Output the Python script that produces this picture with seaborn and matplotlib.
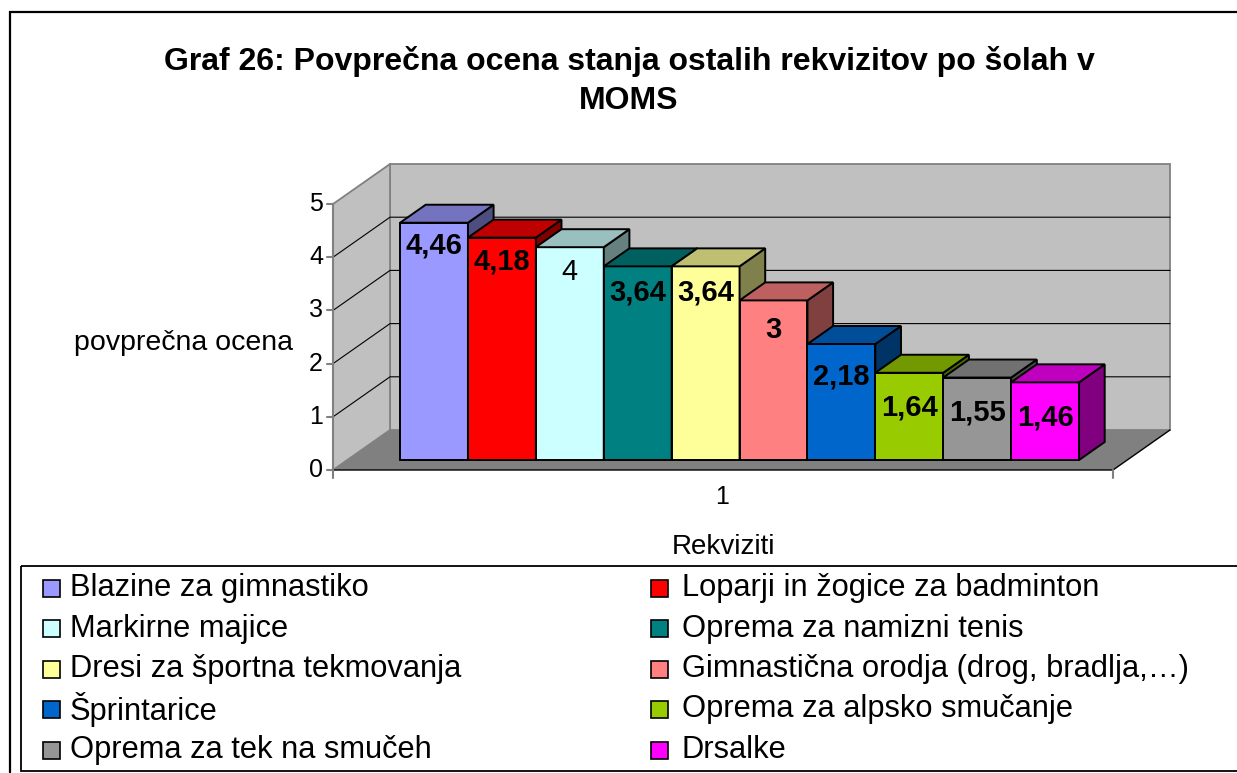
import numpy as np
import pandas as pd
import matplotlib
matplotlib.use("Agg")
import matplotlib.pyplot as plt
import seaborn as sns
from matplotlib.patches import Polygon, Rectangle
from matplotlib.colors import to_rgb

# ---------------- data ----------------
categories = ["Blazine za gimnastiko", "Loparji in žogice za badminton",
              "Markirne majice", "Oprema za namizni tenis",
              "Dresi za športna tekmovanja", "Gimnastična orodja (drog, bradlja,…)",
              "Šprintarice", "Oprema za alpsko smučanje",
              "Oprema za tek na smučeh", "Drsalke"]
values = [4.46, 4.18, 4.0, 3.64, 3.64, 3.0, 2.18, 1.64, 1.55, 1.46]
colors = ["#9999FF", "#FF0000", "#CCFFFF", "#008080", "#FFFF99",
          "#FF8080", "#0066CC", "#99CC00", "#969696", "#FF00FF"]
y_ticks = [0, 1, 2, 3, 4, 5]
x_tick_label = "1"
title = "Graf 26: Povprečna ocena stanja ostalih rekvizitov po šolah v\nMOMS"
x_label = "Rekviziti"
y_label = "povprečna ocena"
label_weights = ["bold", "bold", "normal", "bold", "bold",
                 "bold", "bold", "bold", "bold", "bold"]

# ---------------- setup ----------------
sns.set_theme(style="white")
plt.rcParams['font.family'] = ['Liberation Sans', 'DejaVu Sans']
plt.rcParams['text.color'] = 'black'

W, H = 1237, 773
fig = plt.figure(figsize=(W / 100, H / 100), dpi=100)
fig.patch.set_facecolor("white")

# main axes: linear mapping so bar front plane matches the reference
PX0, SX = 434.0, 67.9   # pixel x of bar 0 centre, px per category unit
PY0, SY = 460.0, 53.2   # pixel y of value 0 (bar plane), px per value unit
DX, DY = 57.0 / SX, 40.0 / SY   # full depth offset in data units
D_FRONT, D_BACK_BAR, D_WALL = -0.25, 0.45, 0.75
X0, X1 = -1.277, 10.21  # wall extent along category axis

ax = fig.add_axes([0, 0, 1, 1])
ax.patch.set_alpha(0)
df = pd.DataFrame({"cat": categories, "val": values})
sns.barplot(data=df, x="cat", y="val", hue="cat", palette=colors,
            saturation=1, width=1, edgecolor="black", linewidth=1.4,
            legend=False, ax=ax)
ax.set_xlim(-PX0 / SX, (W - PX0) / SX)
ax.set_ylim((PY0 - H) / SY, PY0 / SY)
ax.set_axis_off()


def P(x, y, d):
    return (x + d * DX, y + d * DY)


ymax = y_ticks[-1]
wall_col = "#C0C0C0"
edge_gray = "#808080"

# back wall
ax.add_patch(Polygon([P(X0, 0, D_WALL), P(X1, 0, D_WALL), P(X1, ymax, D_WALL),
                      P(X0, ymax, D_WALL)], closed=True, facecolor=wall_col,
                     edgecolor=edge_gray, lw=1.3, zorder=0.5))
# left wall
ax.add_patch(Polygon([P(X0, 0, D_FRONT), P(X0, ymax, D_FRONT), P(X0, ymax, D_WALL),
                      P(X0, 0, D_WALL)], closed=True, facecolor=wall_col,
                     edgecolor=edge_gray, lw=1.3, zorder=0.5))
# grid lines
for v in y_ticks[1:-1]:
    xs, ys = zip(P(X0, v, D_FRONT), P(X0, v, D_WALL), P(X1, v, D_WALL))
    ax.plot(xs, ys, color="black", lw=0.8, zorder=0.7)
# floor
ax.add_patch(Polygon([P(X0, 0, D_FRONT), P(X1, 0, D_FRONT), P(X1, 0, D_WALL),
                      P(X0, 0, D_WALL)], closed=True, facecolor="#808080",
                     edgecolor="none", zorder=0.8))
xs, ys = zip(P(X1, 0, D_WALL), P(X1, 0, D_FRONT), P(X0, 0, D_FRONT))
ax.plot(xs, ys, color="black", lw=1.0, zorder=0.9)

# front y axis
xa, ya0 = P(X0, 0, D_FRONT)
_, ya1 = P(X0, ymax, D_FRONT)
ax.plot([xa, xa], [ya0 - 8 / SY, ya1], color=edge_gray, lw=1.5, zorder=0.9)
for v in y_ticks:
    _, yy = P(X0, v, D_FRONT)
    ax.plot([xa - 6 / SX, xa], [yy, yy], color=edge_gray, lw=1.5, zorder=0.9)
    ax.text(xa - 10 / SX, yy, str(v), ha="right", va="center",
            fontsize=18, color="black")
# x tick at right end
xr, yr = P(X1, 0, D_FRONT)
ax.plot([xr, xr], [yr, yr - 8 / SY], color=edge_gray, lw=1.5, zorder=0.9)

# 3D faces for bars
bars = [p for p in ax.patches if isinstance(p, Rectangle)][:len(values)]
for i, bar in enumerate(bars):
    x, w, h = bar.get_x(), bar.get_width(), bar.get_height()
    base = to_rgb(bar.get_facecolor())
    z = 3 + 0.1 * i
    bar.set_zorder(z)
    top = [P(x, h, 0), P(x + w, h, 0), P(x + w, h, D_BACK_BAR), P(x, h, D_BACK_BAR)]
    side = [P(x + w, 0, 0), P(x + w, h, 0), P(x + w, h, D_BACK_BAR), P(x + w, 0, D_BACK_BAR)]
    ax.add_patch(Polygon(side, closed=True, facecolor=tuple(c * 0.5 for c in base),
                         edgecolor="black", lw=1.4, zorder=z + 0.01))
    ax.add_patch(Polygon(top, closed=True, facecolor=tuple(c * 0.75 for c in base),
                         edgecolor="black", lw=1.4, zorder=z + 0.02))

# data labels
for i, v in enumerate(values):
    lab = f"{v:g}".replace(".", ",")
    ax.text(i, 1.077 * v - 0.78, lab, ha="center", va="center", fontsize=21,
            fontweight=label_weights[i], color="black", zorder=10)

# ---------------- overlay in pixel coords ----------------
ov = fig.add_axes([0, 0, 1, 1], zorder=5)
ov.patch.set_alpha(0)
ov.set_xlim(0, W)
ov.set_ylim(H, 0)
ov.set_axis_off()

# outer frame (cropped right and bottom)
ov.plot([10, 10, W + 5], [H + 5, 12, 12], color="black", lw=1.6,
        solid_joinstyle="miter")
# title
ov.text(629, 81, title, ha="center", va="center", fontsize=23,
        fontweight="bold", linespacing=1.4)
# axis labels
ov.text(183, 343, y_label, ha="center", va="center", fontsize=20.5)
ov.text(723, 547, x_label, ha="center", va="center", fontsize=20)
ov.text(722, 497, x_tick_label, ha="center", va="center", fontsize=18)

# legend box
ov.add_patch(Rectangle((21, 566), W, 205, facecolor="none", edgecolor="black",
                       lw=1.3))
for i, (c, lab) in enumerate(zip(colors, categories)):
    r, col = divmod(i, 2)
    yc = 588 + 40.5 * r
    mx = 51 if col == 0 else 659
    tx = 70 if col == 0 else 682
    ov.add_patch(Rectangle((mx - 8.5, yc - 8.5), 17, 17, facecolor=c,
                           edgecolor="black", lw=1.2))
    ov.text(tx, yc, lab, ha="left", va="center", fontsize=22.2)

fig.savefig("out.png", dpi=100)
